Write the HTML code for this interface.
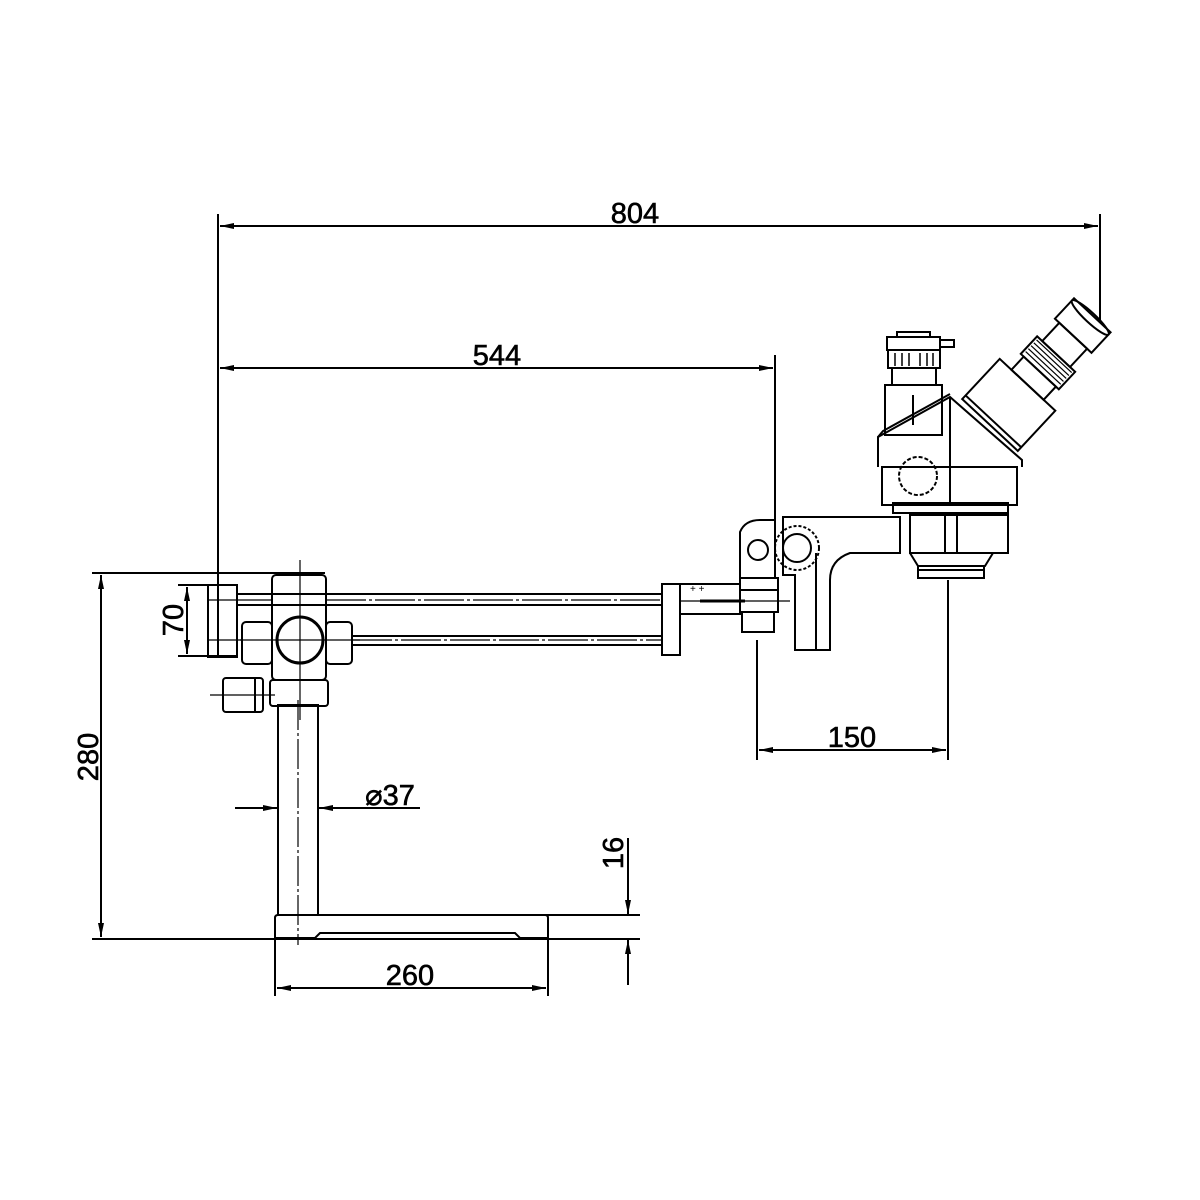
<!DOCTYPE html>
<html><head><meta charset="utf-8"><style>html,body{margin:0;padding:0;background:#fff}svg{display:block}</style></head>
<body>
<svg width="1200" height="1200" viewBox="0 0 1200 1200" xmlns="http://www.w3.org/2000/svg" font-family="Liberation Sans, sans-serif">
<defs>
<marker id="a" viewBox="0 0 14 7" refX="14" refY="3.5" markerWidth="14" markerHeight="7" markerUnits="userSpaceOnUse" orient="auto-start-reverse"><path d="M0,0.5 L14,3.5 L0,6.5z" fill="#000"/></marker>
</defs>
<rect width="1200" height="1200" fill="#fff"/>
<g stroke="#000" stroke-width="2" fill="none">
<line x1="218" y1="214" x2="218" y2="657"/>
<line x1="1100" y1="214" x2="1100" y2="320"/>
<line x1="220" y1="226" x2="1098" y2="226" marker-start="url(#a)" marker-end="url(#a)"/>
<line x1="775" y1="355" x2="775" y2="575"/>
<line x1="220" y1="368" x2="773" y2="368" marker-start="url(#a)" marker-end="url(#a)"/>
<line x1="92" y1="573" x2="325" y2="573"/>
<line x1="92" y1="939" x2="640" y2="939"/>
<line x1="101" y1="575" x2="101" y2="937" marker-start="url(#a)" marker-end="url(#a)"/>
<line x1="178" y1="585" x2="237" y2="585"/>
<line x1="178" y1="656" x2="237" y2="656"/>
<line x1="187" y1="587" x2="187" y2="654" marker-start="url(#a)" marker-end="url(#a)"/>
<line x1="757" y1="640" x2="757" y2="760"/>
<line x1="948" y1="580" x2="948" y2="760"/>
<line x1="759" y1="750" x2="946" y2="750" marker-start="url(#a)" marker-end="url(#a)"/>
<line x1="235" y1="808" x2="277" y2="808" marker-end="url(#a)"/>
<line x1="420" y1="808" x2="319" y2="808" marker-end="url(#a)"/>
<line x1="545" y1="915" x2="640" y2="915"/>
<line x1="628" y1="838" x2="628" y2="914" marker-end="url(#a)"/>
<line x1="628" y1="985" x2="628" y2="940" marker-end="url(#a)"/>
<line x1="275" y1="940" x2="275" y2="996"/>
<line x1="548" y1="940" x2="548" y2="996"/>
<line x1="277" y1="988" x2="546" y2="988" marker-start="url(#a)" marker-end="url(#a)"/>

<path d="M275,918 Q275,915 278,915 L545,915 Q548,915 548,918 L548,938 L520,938 L515,933 L320,933 L315,938 L275,938 Z"/>
<rect x="278" y="705" width="40" height="210"/>
<line x1="298" y1="700" x2="298" y2="945" stroke-width="1.2" stroke-dasharray="30,3,3,3"/>
<rect x="270" y="680" width="58" height="26" rx="3"/>
<rect x="223" y="678" width="40" height="34" rx="3"/>
<line x1="255" y1="678" x2="255" y2="712"/>
<line x1="210" y1="695" x2="275" y2="695" stroke-width="1.2"/>
<rect x="272" y="575" width="54" height="105" rx="4"/>
<rect x="242" y="622" width="30" height="42" rx="4"/>
<rect x="326" y="622" width="26" height="42" rx="4"/>
<circle cx="300" cy="640" r="23" stroke-width="3"/>
<line x1="300" y1="560" x2="300" y2="720" stroke-width="1.2"/>
<line x1="240" y1="640" x2="360" y2="640" stroke-width="1.2"/>
<rect x="208" y="585" width="29" height="72"/>
<line x1="208" y1="600" x2="272" y2="600" stroke-width="1.2"/>
<line x1="208" y1="640" x2="242" y2="640" stroke-width="1.2"/>
<line x1="237" y1="594" x2="662" y2="594"/>
<line x1="237" y1="605" x2="662" y2="605"/>
<line x1="326" y1="600" x2="662" y2="600" stroke-width="1.2" stroke-dasharray="40,3,3,3"/>
<line x1="352" y1="636" x2="662" y2="636"/>
<line x1="352" y1="645" x2="662" y2="645"/>
<line x1="352" y1="640" x2="662" y2="640" stroke-width="1.2" stroke-dasharray="40,3,3,3"/>
<rect x="662" y="584" width="18" height="71"/>
<rect x="680" y="584" width="60" height="30"/>
<line x1="700" y1="601" x2="745" y2="601" stroke-width="3"/>
<line x1="680" y1="601" x2="790" y2="601" stroke-width="1.2"/>
<text x="690" y="592" font-size="10" fill="#000" stroke="none">+  +</text>
<rect x="740" y="578" width="38" height="34"/>
<line x1="740" y1="590" x2="778" y2="590"/>
<rect x="742" y="612" width="32" height="20"/>
<path d="M740,578 L740,532 Q745,520 760,520 L775,520 L775,578"/>
<circle cx="758" cy="550" r="10"/>
<path d="M783,517 L900,517 L900,553 L850,553 Q830,560 830,580 L830,650 L795,650 L795,575 L783,575 Z"/>
<line x1="816" y1="553" x2="816" y2="650"/>
<circle cx="797" cy="548" r="22" stroke-dasharray="3,2"/>
<circle cx="797" cy="548" r="14"/>
<rect x="910" y="515" width="98" height="38"/>
<line x1="945" y1="515" x2="945" y2="553"/>
<line x1="957" y1="515" x2="957" y2="553"/>
<path d="M910,553 L918,566 L985,566 L993,553"/>
<rect x="918" y="566" width="66" height="12"/>
<line x1="918" y1="570" x2="984" y2="570"/>
<rect x="893" y="503" width="115" height="10"/>
<rect x="882" y="467" width="135" height="38"/>
<path d="M878,467 L878,437 L950,397 L1022,460 L1022,467"/>
<path d="M878,437 L883,431 L950,394"/>
<line x1="950" y1="397" x2="950" y2="503"/>
<circle cx="918" cy="476" r="19" stroke-dasharray="4,2"/>
<rect x="885" y="385" width="57" height="50"/>
<line x1="913" y1="395" x2="913" y2="425"/>
<rect x="888" y="350" width="52" height="18"/>
<rect x="892" y="368" width="44" height="17"/>
<rect x="887" y="337" width="53" height="13"/>
<rect x="897" y="332" width="33" height="5"/>
<rect x="940" y="340" width="14" height="7"/>
<g stroke-width="1.5"><line x1="895" y1="353" x2="895" y2="366"/><line x1="902" y1="353" x2="902" y2="366"/><line x1="909" y1="353" x2="909" y2="366"/><line x1="920" y1="353" x2="920" y2="366"/><line x1="927" y1="353" x2="927" y2="366"/><line x1="933" y1="353" x2="933" y2="366"/></g>
<g transform="translate(990,425) rotate(-47)">
<rect x="0" y="-38" width="55" height="76"/>
<line x1="5" y1="-38" x2="5" y2="38"/>
<rect x="55" y="-22" width="18" height="44"/>
<rect x="73" y="-26" width="24" height="52"/>
<g stroke-width="1.2"><line x1="78" y1="-24" x2="78" y2="24"/><line x1="82" y1="-24" x2="82" y2="24"/><line x1="86" y1="-24" x2="86" y2="24"/><line x1="90" y1="-24" x2="90" y2="24"/><line x1="94" y1="-24" x2="94" y2="24"/></g>
<rect x="97" y="-19" width="25" height="38"/>
<rect x="122" y="-25" width="28" height="50"/>
<ellipse cx="147" cy="0" rx="5" ry="25"/>
</g>
</g>
<g fill="#000" stroke="#000" stroke-width="0.6" font-size="29">
<text x="635" y="223" text-anchor="middle">804</text>
<text x="497" y="365" text-anchor="middle">544</text>
<text x="852" y="747" text-anchor="middle">150</text>
<text x="410" y="985" text-anchor="middle">260</text>
<text x="390" y="805" text-anchor="middle">⌀37</text>
<text transform="translate(98,757) rotate(-90)" text-anchor="middle">280</text>
<text transform="translate(183,620) rotate(-90)" text-anchor="middle">70</text>
<text transform="translate(623,853) rotate(-90)" text-anchor="middle">16</text>
</g>
</svg>
</body></html>
